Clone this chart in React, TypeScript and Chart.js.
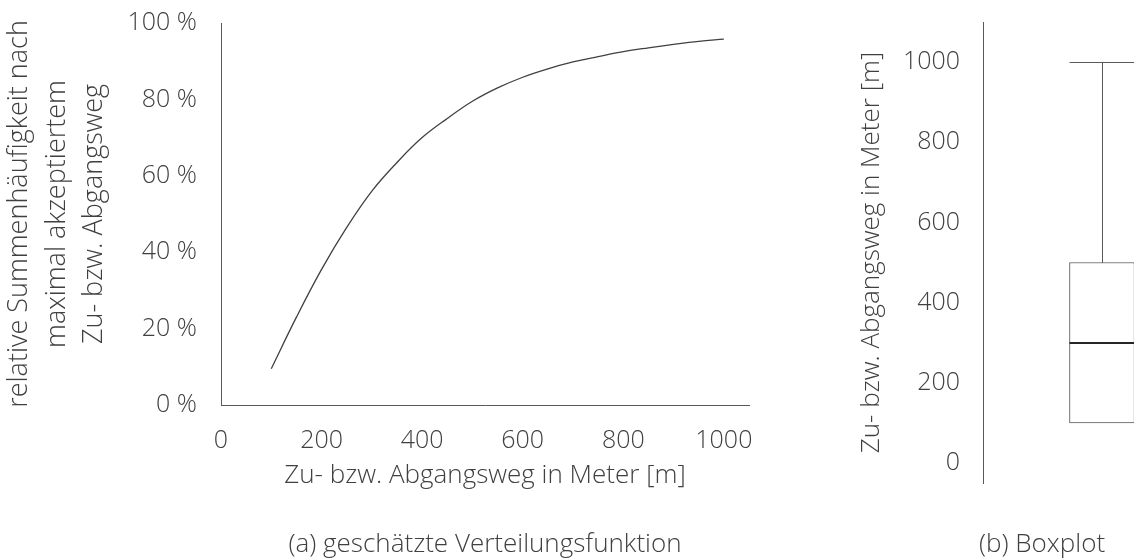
import { useEffect, useRef } from "react";
import { Chart, registerables } from "chart.js";

Chart.register(...registerables);

// ---------- data ----------
// (a) estimated distribution function
const distances = [100, 150, 200, 250, 300, 350, 400, 450, 500, 550, 600, 650, 700, 750, 800, 850, 900, 950, 1000];
const cumulativeShare = [9.5, 23, 35.5, 46.5, 56, 63.5, 70, 75, 79.5, 83, 85.8, 88, 89.8, 91.2, 92.5, 93.5, 94.4, 95.2, 95.8];
const xTickValues = [0, 200, 400, 600, 800, 1000];
const yTickValues = [0, 20, 40, 60, 80, 100];
const yTitleLines = ["relative Summenhäufigkeit nach", "maximal akzeptiertem", "Zu- bzw. Abgangsweg"];
const xTitleText = "Zu- bzw. Abgangsweg in Meter [m]";
const captionA = "(a) geschätzte Verteilungsfunktion";

// (b) boxplot
const boxCategories = ["Zu- bzw. Abgangsweg"];
const whiskerLow = [100];
const quartile1 = [100];
const medianValues = [300];
const quartile3 = [500];
const whiskerHigh = [1000];
const boxTickValues = [0, 200, 400, 600, 800, 1000];
const boxYTitle = "Zu- bzw. Abgangsweg in Meter [m]";
const captionB = "(b) Boxplot";

// ---------- styles ----------
const FAMILY = "'Open Sans', 'Noto Sans', sans-serif";
const TEXT = "#404040";
const AXIS = "#595959";
const LINE = "#404040";
const FONT = { family: FAMILY, size: 25, weight: 300 as any, lineHeight: 1.2 };
const TITLE_FONT = { family: FAMILY, size: 26, weight: 300 as any, lineHeight: 1.2 };

const noScalePadding = (s: any) => {
  s.paddingTop = 0;
  s.paddingBottom = 0;
  s.paddingLeft = 0;
  s.paddingRight = 0;
};

const boxplotPlugin = {
  id: "boxplotWhiskers",
  afterDatasetsDraw(chart: any) {
    const meta = chart.getDatasetMeta(0);
    const y = chart.scales.y;
    const ctx = chart.ctx;
    meta.data.forEach((bar: any, i: number) => {
      const half = bar.width / 2;
      const cx = Math.round(bar.x) + 0.5;
      const yMed = y.getPixelForValue(medianValues[i]);
      const yQ1 = y.getPixelForValue(quartile1[i]);
      const yQ3 = y.getPixelForValue(quartile3[i]);
      const yHi = y.getPixelForValue(whiskerHigh[i]);
      const yLo = y.getPixelForValue(whiskerLow[i]);
      ctx.save();
      ctx.strokeStyle = AXIS;
      ctx.lineWidth = 1;
      ctx.beginPath();
      ctx.moveTo(cx, Math.round(yQ3));
      ctx.lineTo(cx, Math.round(yHi) + 0.5);
      ctx.moveTo(bar.x - half, Math.round(yHi) + 0.5);
      ctx.lineTo(bar.x + half, Math.round(yHi) + 0.5);
      if (whiskerLow[i] < quartile1[i]) {
        ctx.moveTo(cx, Math.round(yQ1));
        ctx.lineTo(cx, Math.round(yLo) + 0.5);
        ctx.moveTo(bar.x - half, Math.round(yLo) + 0.5);
        ctx.lineTo(bar.x + half, Math.round(yLo) + 0.5);
      }
      ctx.stroke();
      ctx.strokeStyle = "#262626";
      ctx.lineWidth = 2;
      ctx.beginPath();
      ctx.moveTo(bar.x - half, Math.round(yMed));
      ctx.lineTo(bar.x + half, Math.round(yMed));
      ctx.stroke();
      ctx.restore();
    });
  },
};

export default function App() {
  const leftRef = useRef<HTMLCanvasElement>(null);
  const rightRef = useRef<HTMLCanvasElement>(null);

  useEffect(() => {
    const left = new Chart(leftRef.current!, {
      type: "line",
      data: {
        datasets: [
          {
            data: distances.map((d, i) => ({ x: d, y: cumulativeShare[i] })),
            borderColor: LINE,
            borderWidth: 1.3,
            pointRadius: 0,
            tension: 0.4,
            fill: false,
          },
        ],
      },
      options: {
        animation: false,
        responsive: false,
        maintainAspectRatio: false,
        layout: { padding: { left: 0, right: 91, top: 23, bottom: 0 } },
        plugins: { legend: { display: false }, tooltip: { enabled: false }, title: { display: false } },
        scales: {
          x: {
            type: "linear",
            min: 0,
            max: 1050,
            afterBuildTicks: (s: any) => {
              s.ticks = xTickValues.map((v) => ({ value: v }));
            },
            afterFit: (s: any) => {
              s.height = 154;
              noScalePadding(s);
            },
            grid: { display: false, drawTicks: false },
            border: { display: true, color: AXIS, width: 1 },
            ticks: { color: TEXT, font: FONT, padding: 21, maxRotation: 0, autoSkip: false, callback: (v: any) => String(v) },
            title: {
              display: true,
              text: [xTitleText, "", captionA],
              color: TEXT,
              font: { ...TITLE_FONT, lineHeight: "34.5px" },
              padding: { top: 0, bottom: -3 },
            },
          },
          y: {
            type: "linear",
            min: 0,
            max: 100,
            afterBuildTicks: (s: any) => {
              s.ticks = yTickValues.map((v) => ({ value: v }));
            },
            afterFit: (s: any) => {
              s.width = 221;
              noScalePadding(s);
            },
            grid: { display: false, drawTicks: false },
            border: { display: true, color: AXIS, width: 1 },
            ticks: { color: TEXT, font: FONT, padding: 24, callback: (v: any) => `${v} %` },
            title: {
              display: true,
              text: yTitleLines,
              color: TEXT,
              font: { ...TITLE_FONT, size: 27, lineHeight: "37.5px" },
              padding: { top: 1, bottom: 0 },
            },
          },
        },
      },
    });

    const right = new Chart(rightRef.current!, {
      type: "bar",
      data: {
        labels: boxCategories,
        datasets: [
          {
            data: quartile1.map((q, i) => [q, quartile3[i]]) as any,
            backgroundColor: "#ffffff",
            borderColor: AXIS,
            borderWidth: 1,
            borderSkipped: false,
            barThickness: 65,
          },
        ],
      },
      options: {
        animation: false,
        responsive: false,
        maintainAspectRatio: false,
        layout: { padding: { left: 23, right: 0, top: 22, bottom: 0 } },
        plugins: {
          legend: { display: false },
          tooltip: { enabled: false },
          title: {
            display: true,
            position: "bottom",
            text: captionB,
            color: TEXT,
            font: TITLE_FONT,
            padding: { top: 46.4, bottom: -1.6 },
          },
        },
        scales: {
          x: { type: "category", display: false },
          y: {
            type: "linear",
            min: -50,
            max: 1100,
            afterBuildTicks: (s: any) => {
              s.ticks = boxTickValues.map((v) => ({ value: v }));
            },
            afterFit: (s: any) => {
              s.width = 120;
              noScalePadding(s);
            },
            grid: { display: false, drawTicks: false },
            border: { display: true, color: AXIS, width: 1 },
            ticks: { color: TEXT, font: FONT, padding: 23, callback: (v: any) => String(v) },
            title: {
              display: true,
              text: boxYTitle,
              color: TEXT,
              font: { ...TITLE_FONT, lineHeight: "18px" },
              padding: { top: 0, bottom: 0 },
            },
          },
        },
      },
      plugins: [boxplotPlugin],
    });

    return () => {
      left.destroy();
      right.destroy();
    };
  }, []);

  return (
    <div
      style={{
        position: "absolute",
        left: 0,
        top: 0,
        width: 1134,
        height: 559,
        overflow: "hidden",
        background: "#ffffff",
      }}
    >
      <canvas
        ref={leftRef}
        width={840}
        height={559}
        style={{ position: "absolute", left: 0, top: 0, width: 840, height: 559 }}
      />
      <canvas
        ref={rightRef}
        width={381}
        height={559}
        style={{ position: "absolute", left: 840, top: 0, width: 381, height: 559 }}
      />
    </div>
  );
}
